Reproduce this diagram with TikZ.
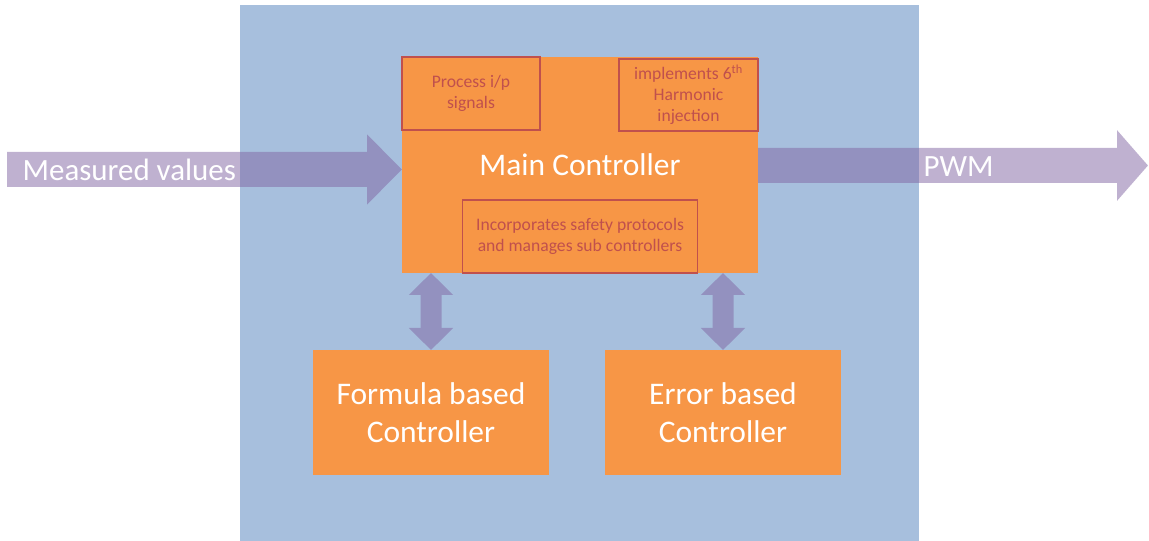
\documentclass[tikz,border=0pt]{standalone}
\usepackage{fontspec}
\setmainfont{Carlito}
\usetikzlibrary{arrows.meta,positioning}

\definecolor{bgblue}{HTML}{A7BFDD}
\definecolor{ctrlorange}{HTML}{F79646}
\definecolor{boxred}{HTML}{C0504D}
\definecolor{flowpurple}{HTML}{8064A2}

\begin{document}
\begin{tikzpicture}[
    x=0.75pt, y=-0.75pt,
    % 主控制器方框
    mainbox/.style={
        fill=ctrlorange,
        text=white,
        inner sep=0pt,
        outer sep=0pt,
        font=\fontsize{23.6}{28}\selectfont,
        minimum width=267pt,
        minimum height=162pt
    },
    % 子控制器方框
    subbox/.style={
        fill=ctrlorange,
        text=white,
        align=center,
        inner sep=0pt,
        outer sep=0pt,
        font=\fontsize{23.6}{28.5}\selectfont,
        minimum width=177pt,
        minimum height=93.75pt
    },
    % 內部功能方框
    taskbox/.style={
        draw=boxred,
        line width=1pt,
        text=boxred,
        align=center,
        inner sep=0pt,
        outer sep=0pt,
        font=\fontsize{13.2}{15.75}\selectfont
    },
    % 箭頭樣式
    flow/.style={
        draw=flowpurple,
        line width=26.25pt
    },
    dualflow/.style={
        draw=flowpurple,
        line width=15.75pt,
        {Triangle[width=32.25pt,length=16.5pt]}-{Triangle[width=32.25pt,length=16.5pt]}
    },
    flowtext/.style={
        text=white,
        font=\fontsize{23.2}{28}\selectfont
    }
]

    \useasboundingbox (0,0) rectangle (1149,541);

    % --- 1. 背景 ---
    \fill[bgblue] (240,5) rectangle (919,541);

    % --- 2. 主控制器 ---
    \node[mainbox] (main) at (580,165) {Main Controller};

    \node[taskbox, anchor=north west, minimum width=103.5pt, minimum height=54.75pt] (proc) at (main.north west) {Process i/p\\signals};
    \node[taskbox, anchor=north east, minimum width=104.25pt, minimum height=54pt, yshift=-1.5pt] (harm) at (main.north east) {implements 6\textsuperscript{th}\\Harmonic\\injection};
    \node[taskbox, anchor=south, minimum width=176.25pt, minimum height=54.75pt] (safe) at (main.south) {Incorporates safety protocols\\and manages sub controllers};

    % --- 3. 子控制器 ---
    \node[subbox, below=57.75pt of main, xshift=-111.75pt] (formula) {Formula based\\Controller};
    \node[subbox, below=57.75pt of main, xshift=107.25pt] (error) {Error based\\Controller};

    % --- 4. 箭頭 ---
    \coordinate (mvstart) at (7,169.5);
    \coordinate (pwmend) at (1148,165.5);

    \begin{scope}[transparency group, opacity=0.5]
        \draw[flow, -{Triangle[width=51pt,length=26.25pt]}] (mvstart) -- (main.west |- mvstart);
        \draw[flow, -{Triangle[width=51.75pt,length=23.25pt]}] (main.east |- pwmend) -- (pwmend);
        \draw[dualflow] (formula.north |- main.south) -- (formula.north);
        \draw[dualflow] (error.north |- main.south) -- (error.north);
    \end{scope}

    % --- 5. 輸入輸出文字 ---
    \node[flowtext, anchor=base west] (mvlabel) at (18,181) {Measured values};
    \node[flowtext, anchor=base west] (pwmlabel) at (919,177) {PWM};

\end{tikzpicture}
\end{document}
